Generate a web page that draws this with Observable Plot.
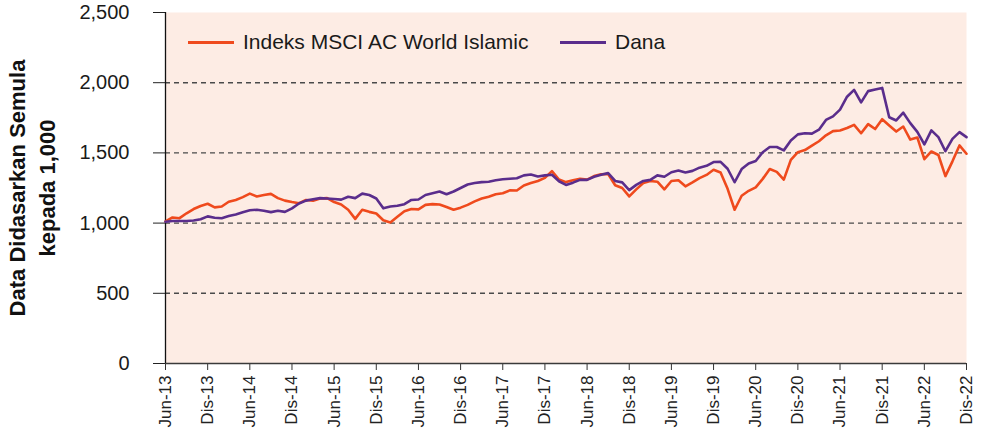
<!DOCTYPE html>
<html><head><meta charset="utf-8">
<script src="https://cdn.jsdelivr.net/npm/d3@7"></script>
<script src="https://cdn.jsdelivr.net/npm/@observablehq/plot@0.6"></script>
<style>
body{margin:0;background:#fff;}
#wrap{position:relative;width:983px;height:440px;font-family:"Liberation Sans",Arial,Helvetica,sans-serif;}
.leg{position:absolute;top:30px;height:24px;display:flex;align-items:center;font-size:21px;color:#1a1a1a;white-space:nowrap;}
.sw{display:inline-block;width:46px;height:3px;margin-right:9px;}
</style></head><body><div id="wrap"></div>
<script>
const seriesNames = ["Indeks MSCI AC World Islamic", "Dana"];
const seriesColors = ["#ef4a1d", "#5a2d8c"];
const tickLabels = ["Jun-13","Dis-13","Jun-14","Dis-14","Jun-15","Dis-15","Jun-16","Dis-16","Jun-17","Dis-17","Jun-18","Dis-18","Jun-19","Dis-19","Jun-20","Dis-20","Jun-21","Dis-21","Jun-22","Dis-22"];
const yTicks = [0, 500, 1000, 1500, 2000, 2500];
const gridValues = [500, 1000, 1500, 2000];
// monthly values, Jun-13 .. Dis-22
const indexValues = [1012,1040,1035,1070,1100,1122,1138,1112,1118,1152,1165,1185,1210,1190,1200,1208,1178,1160,1150,1142,
1165,1160,1175,1178,1150,1133,1095,1030,1095,1080,1068,1020,1004,1045,1085,1100,1098,1130,1135,1133,
1115,1095,1110,1130,1155,1175,1188,1205,1213,1233,1232,1268,1285,1300,1322,1370,1310,1292,1305,1315,
1310,1335,1348,1350,1270,1250,1190,1240,1285,1300,1295,1240,1300,1305,1262,1290,1320,1343,1380,1360,
1244,1095,1195,1230,1255,1315,1385,1365,1310,1450,1505,1520,1552,1583,1625,1655,1660,1677,1700,1640,
1705,1670,1740,1695,1652,1688,1595,1610,1455,1510,1485,1335,1440,1553,1494];
const fundValues = [1010,1015,1015,1015,1018,1028,1048,1038,1035,1050,1062,1078,1092,1095,1088,1078,1088,1080,1105,1140,
1160,1170,1178,1175,1172,1167,1188,1178,1210,1200,1175,1105,1118,1123,1135,1165,1168,1200,1212,1225,
1205,1225,1250,1275,1285,1292,1295,1305,1312,1316,1320,1340,1346,1332,1340,1344,1298,1272,1288,1308,
1308,1330,1345,1356,1300,1290,1235,1272,1300,1308,1340,1330,1362,1374,1360,1372,1395,1408,1435,1436,
1387,1291,1385,1425,1442,1505,1542,1542,1518,1588,1632,1640,1637,1665,1735,1760,1808,1900,1949,1860,
1940,1952,1963,1754,1731,1786,1712,1650,1560,1660,1612,1512,1600,1648,1612];
const yTitle = "Data Didasarkan Semula\nkepada 1,000";

const rows = [];
indexValues.forEach((v, i) => rows.push({m: i, v, s: seriesNames[0]}));
fundValues.forEach((v, i) => rows.push({m: i, v, s: seriesNames[1]}));
const lastM = indexValues.length - 1;
const font = '"Liberation Sans", Arial, Helvetica, sans-serif';

const chart = Plot.plot({
  width: 983, height: 440,
  marginLeft: 165, marginRight: 17, marginTop: 12, marginBottom: 77,
  style: {fontFamily: font, fontSize: "20px", color: "#1a1a1a", background: "transparent", overflow: "visible"},
  x: {domain: [0, lastM]},
  y: {domain: [0, 2500]},
  color: {domain: seriesNames, range: seriesColors},
  marks: [
    Plot.frame({fill: "#fdece4", stroke: "none"}),
    Plot.ruleY(gridValues, {stroke: "#4a4a4a", strokeDasharray: "5,4", strokeWidth: 1.4}),
    Plot.axisY({ticks: yTicks, tickFormat: d3.format(","), tickSize: 12, tickPadding: 24, fontSize: 20, label: null, stroke: "#222", fill: "#1a1a1a"}),
    Plot.axisX({ticks: d3.range(0, lastM + 1, 6), tickFormat: i => tickLabels[i / 6], tickSize: 7, tickPadding: 5, tickRotate: -90, fontSize: 17, label: null, stroke: "#333", fill: "#222"}),
    Plot.ruleY([0], {stroke: "#3a3a3a", strokeWidth: 1.3}),
    Plot.ruleX([0], {stroke: "#111", strokeWidth: 1.3}),
    Plot.line(rows, {x: "m", y: "v", z: "s", stroke: "s", strokeWidth: 2.6, strokeLinejoin: "round"}),
    Plot.text([yTitle], {frameAnchor: "left", dx: -135, rotate: -90, fontWeight: "bold", fontSize: 22, lineHeight: 1.35, fill: "#111", textAnchor: "middle", lineAnchor: "middle"})
  ]
});
const wrap = document.getElementById("wrap");
wrap.appendChild(chart);
const positions = [188, 560];
seriesNames.forEach((name, k) => {
  const d = document.createElement("div");
  d.className = "leg";
  d.style.left = positions[k] + "px";
  d.innerHTML = `<span class="sw" style="background:${seriesColors[k]}"></span><span>${name}</span>`;
  wrap.appendChild(d);
});
</script></body></html>
